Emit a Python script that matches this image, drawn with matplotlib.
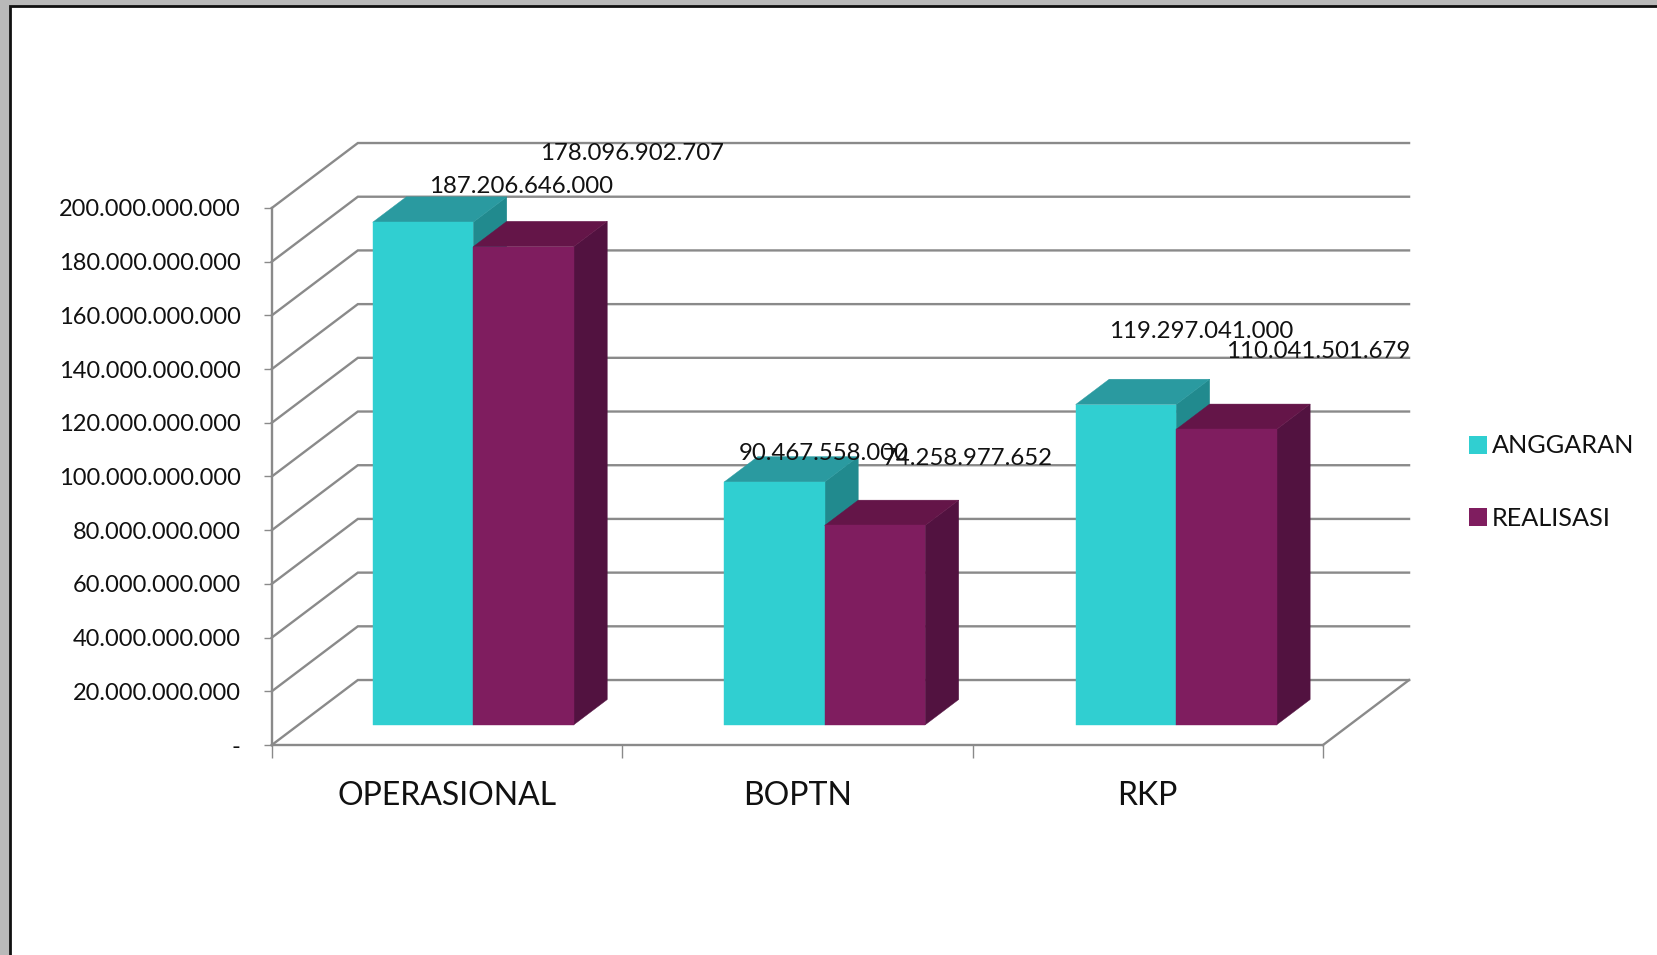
import matplotlib
matplotlib.use('Agg')
import matplotlib.pyplot as plt
from matplotlib.patches import Polygon, Patch, Rectangle

categories = ['OPERASIONAL', 'BOPTN', 'RKP']
anggaran = [187206646000, 90467558000, 119297041000]
realisasi = [178096902707, 74258977652, 110041501679]
y_ticks = [0, 20e9, 40e9, 60e9, 80e9, 100e9, 120e9, 140e9, 160e9, 180e9, 200e9]
y_labels = ['-', '20.000.000.000', '40.000.000.000', '60.000.000.000', '80.000.000.000',
            '100.000.000.000', '120.000.000.000', '140.000.000.000', '160.000.000.000',
            '180.000.000.000', '200.000.000.000']

# label offsets from the bar top, in pixels
offs_a = [(98, 36), (49, 28), (75, 73)]
offs_r = [(109, 93), (93, 67), (92, 78)]

plt.rcParams['font.family'] = ['Lato', 'DejaVu Sans']

W, H = 1657, 955
fig = plt.figure(figsize=(W / 100, H / 100), dpi=100, facecolor='#b9b9b9')

# page frame
fig.add_artist(Rectangle((9.5 / W, -0.05), 1.1, 1.05 - 6 / H, transform=fig.transFigure,
                         facecolor='white', edgecolor='#111111', linewidth=2, zorder=-1))

ax = fig.add_axes([271.8 / W, (H - 745) / H, (1323 - 271.8) / W, 537 / H])
ax.patch.set_visible(False)
ax.set_xlim(0, 3)
ax.set_ylim(0, 200e9)

# depth of the floor in data units
DX = 0.2456
DY = 24.2e9
grid_col = '#8a8a8a'

for t in y_ticks:
    ax.plot([0, DX, 3 + DX], [t, t + DY, t + DY], color=grid_col, lw=1.7, clip_on=False, zorder=1,
            solid_joinstyle='miter')
ax.plot([3, 3 + DX], [0, DY], color=grid_col, lw=1.7, clip_on=False, zorder=1)


def draw_bar(x0, width, val, front, top, side):
    d0, d1 = 0.31, 0.70
    x1 = x0 + width
    fx0, fx1 = x0 + d0 * DX, x1 + d0 * DX
    bx0, bx1 = x0 + d1 * DX, x1 + d1 * DX
    fb, ft = d0 * DY, val + d0 * DY
    bb, bt = d1 * DY, val + d1 * DY
    ax.add_patch(Polygon([(fx1, fb), (bx1, bb), (bx1, bt), (fx1, ft)], facecolor=side, edgecolor=side,
                         lw=0.3, clip_on=False, zorder=3))
    ax.add_patch(Polygon([(fx0, ft), (fx1, ft), (bx1, bt), (bx0, bt)], facecolor=top, edgecolor=top,
                         lw=0.3, clip_on=False, zorder=3))
    ax.add_patch(Polygon([(fx0, fb), (fx1, fb), (fx1, ft), (fx0, ft)], facecolor=front, edgecolor=front,
                         lw=0.3, clip_on=False, zorder=3))
    return (fx0 + fx1) / 2, ft


bar_w = 0.2867
for i in range(len(categories)):
    x0 = i * 1.003 + 0.212
    xa, ya = draw_bar(x0, bar_w, anggaran[i], '#30cfd1', '#2a9aa0', '#218a8e')
    xr, yr = draw_bar(x0 + bar_w, bar_w, realisasi[i], '#7f1d5f', '#641548', '#521240')
    for xx, yy, val, off in [(xa, ya, anggaran[i], offs_a[i]), (xr, yr, realisasi[i], offs_r[i])]:
        ax.annotate(f'{val:,}'.replace(',', '.'), (xx, yy), xytext=off, textcoords='offset pixels',
                    ha='center', va='center', fontsize=17.3, color='#111111', zorder=5,
                    annotation_clip=False)

ax.set_yticks(y_ticks)
ax.set_yticklabels(y_labels, fontsize=17, color='#111111')
ax.set_xticks([0, 1, 2, 3])
ax.set_xticklabels([])
ax.set_xticks([0.5, 1.5, 2.5], minor=True)
ax.set_xticklabels(categories, minor=True, fontsize=23, color='#111111')
ax.tick_params(axis='y', length=6, width=1, color=grid_col, pad=16.5)
ax.tick_params(axis='x', which='major', length=9, width=1, color=grid_col)
ax.tick_params(axis='x', which='minor', length=0, pad=26)
for s in ['top', 'right']:
    ax.spines[s].set_visible(False)
for s in ['left', 'bottom']:
    ax.spines[s].set_color(grid_col)
    ax.spines[s].set_linewidth(1.7)

handles = [Patch(facecolor='#30cfd1', label='ANGGARAN'), Patch(facecolor='#7f1d5f', label='REALISASI')]
fig.legend(handles=handles, loc='center left', bbox_to_anchor=(1446 / W, (H - 482) / H), frameon=False,
           fontsize=18.2, handlelength=0.72, handleheight=0.72, handletextpad=0.2, labelspacing=1.95,
           labelcolor='#111111')

fig.savefig('out.png', dpi=100, facecolor=fig.get_facecolor())
